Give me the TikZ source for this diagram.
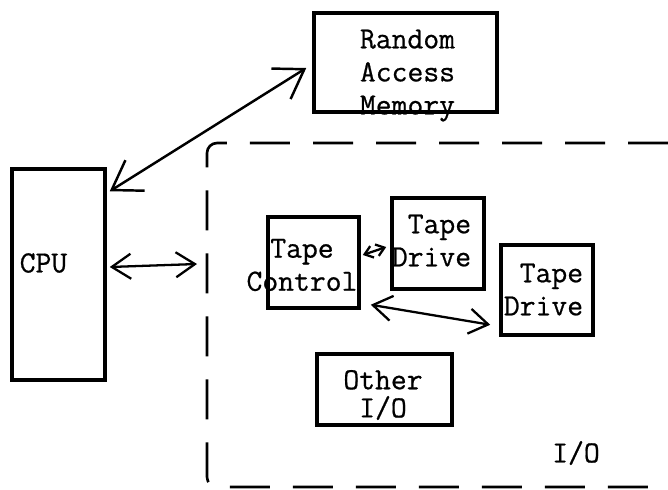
\documentclass[tikz,border=0pt]{standalone}
\usepackage{fontspec}
\setmonofont{Latin Modern Mono}[FakeBold=0.7]
\usetikzlibrary{arrows.meta}

\begin{document}
\begin{tikzpicture}[
    box/.style={draw, line width=2pt, inner sep=0pt},
    txt/.style={font=\ttfamily\fontsize{17.5}{18.8}\selectfont, inner sep=0pt, align=center},
    arr/.style={{Straight Barb[length=0.38cm,width=0.5cm]}-{Straight Barb[length=0.38cm,width=0.5cm]}, line width=1.3pt},
    bigarr/.style={{Straight Barb[length=0.55cm,width=0.72cm]}-{Straight Barb[length=0.55cm,width=0.72cm]}, line width=1.4pt},
    smallarr/.style={{Straight Barb[length=0.16cm,width=0.24cm]}-{Straight Barb[length=0.16cm,width=0.24cm]}, line width=1.3pt},
    region/.style={line width=1.5pt, dash pattern=on 0.8cm off 0.46cm, rounded corners=0.2cm}]
  \useasboundingbox (0,0) rectangle (13.36,-9.78);
  % boxes
  \node[box, minimum width=3.66cm, minimum height=1.98cm] (ram) at (8.11,-1.25) {};
  \node[box, minimum width=1.86cm, minimum height=4.22cm] (cpu) at (1.17,-5.49) {};
  \node[box, minimum width=1.82cm, minimum height=1.82cm] (tc) at (6.27,-5.25) {};
  \node[box, minimum width=1.84cm, minimum height=1.82cm] (td1) at (8.76,-4.87) {};
  \node[box, minimum width=1.84cm, minimum height=1.80cm] (td2) at (10.94,-5.80) {};
  \node[box, minimum width=2.70cm, minimum height=1.42cm] (other) at (7.69,-7.79) {};
  % labels
  \node[txt] (ramtxt) at (8.15,-1.51) {Random\\Access\\Memory};
  \node[txt] (cputxt) at (0.87,-5.26) {CPU};
  \node[txt] (tctxt) at (6.04,-5.3) {Tape\\Control};
  \node[txt, align=right] (td1txt) at (8.63,-4.81) {Tape\\Drive};
  \node[txt, align=right] (td2txt) at (10.87,-5.79) {Tape\\Drive};
  \node[txt, font=\ttfamily\fontsize{17.5}{16}\selectfont] (othertxt) at (7.66,-7.9) {Other\\I/O};
  \node[txt] (iotxt) at (11.52,-9.06) {I/O};
  % I/O region
  \coordinate (iowest) at (3.94,-5.28);
  \draw[region] (13.36,-2.86) -- (4.14,-2.86) -- (4.14,-9.74) -- (13.36,-9.74);
  % connections
  \draw[bigarr] ([xshift=0.06cm, yshift=-0.48cm]cpu.north east) -- ([xshift=-0.12cm, yshift=-0.11cm]ram.west);
  \draw[arr] ([xshift=0.06cm, yshift=0.15cm]cpu.east) -- (iowest);
  \draw[smallarr] ([xshift=0.04cm, yshift=0.15cm]tc.east) -- ([xshift=-0.08cm, yshift=-0.07cm]td1.west);
  \draw[arr] ([xshift=0.2cm, yshift=0.1cm]tc.south east) -- ([xshift=-0.18cm, yshift=0.24cm]td2.south west);
\end{tikzpicture}
\end{document}
